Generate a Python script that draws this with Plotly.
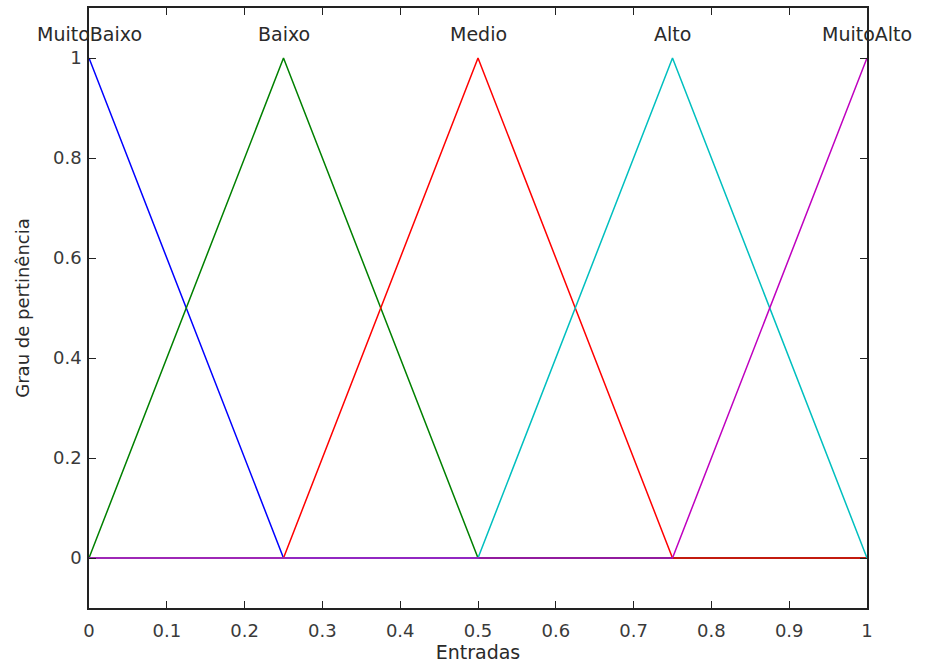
import plotly.graph_objects as go

# Membership functions of the input variable (triangular), given by their vertices
mf_names = ["MuitoBaixo", "Baixo", "Medio", "Alto", "MuitoAlto"]
mf_x = [
    [0.0, 0.25, 1.0],
    [0.0, 0.25, 0.5, 1.0],
    [0.0, 0.25, 0.5, 0.75, 1.0],
    [0.0, 0.5, 0.75, 1.0],
    [0.0, 0.75, 1.0],
]
mf_y = [
    [1.0, 0.0, 0.0],
    [0.0, 1.0, 0.0, 0.0],
    [0.0, 0.0, 1.0, 0.0, 0.0],
    [0.0, 0.0, 1.0, 0.0],
    [0.0, 0.0, 1.0],
]
mf_peaks = [0.0, 0.25, 0.5, 0.75, 1.0]
mf_colors = ["#0000ff", "#008000", "#ff0000", "#00bfbf", "#bf00bf"]

x_ticks = [0, 0.1, 0.2, 0.3, 0.4, 0.5, 0.6, 0.7, 0.8, 0.9, 1]
x_tick_labels = ["0", "0.1", "0.2", "0.3", "0.4", "0.5", "0.6", "0.7", "0.8", "0.9", "1"]
y_ticks = [0, 0.2, 0.4, 0.6, 0.8, 1]
y_tick_labels = ["0", "0.2", "0.4", "0.6", "0.8", "1"]

font_family = "DejaVu Sans, Arial, sans-serif"
text_color = "#3a3a3a"

fig = go.Figure()
for name, xs, ys, col in zip(mf_names, mf_x, mf_y, mf_colors):
    fig.add_trace(go.Scatter(
        x=xs, y=ys, mode="lines", name=name,
        line=dict(color=col, width=1.5),
        hoverinfo="skip", showlegend=False,
    ))

# Name of each membership function above its peak
for name, px in zip(mf_names, mf_peaks):
    fig.add_annotation(
        x=px, y=1, xref="x", yref="y", text=name, showarrow=False,
        yanchor="middle", yshift=24,
        font=dict(family=font_family, size=19, color="#2a2a2a"),
    )

axis_common = dict(
    showgrid=False, zeroline=False,
    showline=True, linecolor="#222222", linewidth=1.6, mirror="ticks",
    ticks="inside", ticklen=7, tickwidth=1.3, tickcolor="#222222",
    tickfont=dict(family=font_family, size=18, color=text_color),
)

fig.update_xaxes(
    range=[0, 1], tickvals=x_ticks, ticktext=x_tick_labels,
    title=dict(text="Entradas", standoff=0,
               font=dict(family=font_family, size=19, color="#2a2a2a")),
    ticklabelstandoff=6,
    **axis_common,
)
fig.update_yaxes(
    range=[-0.1, 1.1], tickvals=y_ticks, ticktext=y_tick_labels,
    title=dict(text="Grau de pertinência", standoff=19,
               font=dict(family=font_family, size=18, color="#2a2a2a")),
    ticklabelstandoff=2,
    **axis_common,
)

fig.update_layout(
    width=925, height=666,
    margin=dict(l=89, r=58, t=6, b=58),
    paper_bgcolor="white", plot_bgcolor="white",
)

fig.write_html("out.html")
